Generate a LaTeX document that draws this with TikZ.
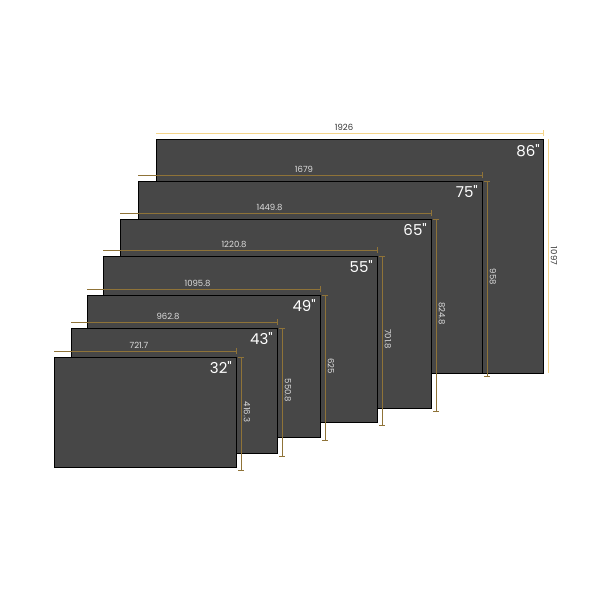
\documentclass[tikz,border=0pt]{standalone}
\usepackage{fontspec}
\setmainfont{Poppins}
\definecolor{screen}{HTML}{474747}
\definecolor{dimline}{HTML}{8F7338}
\definecolor{dimlight}{HTML}{F5D58A}
\definecolor{dimtext}{HTML}{DDDDDD}
\tikzset{
  tv/.style={draw=black, line width=0.9pt, fill=screen},
  dim/.style={draw=dimline, line width=0.5pt},
  dimlabel/.style={text=dimtext, font=\fontsize{8.5}{9}\selectfont, inner sep=1pt},
  sizelabel/.style={text=white, font=\fontsize{15}{16}\selectfont, anchor=north east, inner sep=1pt}
}
\begin{document}
\begin{tikzpicture}[x=1pt,y=-1pt]
  \useasboundingbox (0,0) rectangle (600,600);
  % largest screen, labels outside on white
  \draw [tv] (156,139) rectangle (543,373);
  \draw [draw=dimlight, line width=0.5pt] (156,133)--(543,133) (543,130)--(543,136);
  \draw [draw=dimlight, line width=0.5pt] (548,139)--(548,373);
  \node [font=\fontsize{8.5}{9}\selectfont, text=black!80] at (344,127) {1926};
  \node [font=\fontsize{8.5}{9}\selectfont, text=black!80, rotate=-90] at (554,256) {1097};
  \node [sizelabel] at (541,143) {86\textquotedbl};
  % smaller screens: left/top/right/bottom/width/height/size
  \foreach \l/\t/\r/\b/\w/\h/\s in {138/181/482/373/1679/958/75, 120/219/431/408/1449.8/824.8/65,
      103/256/377/422/1220.8/701.8/55, 87/295/320/437/1095.8/625/49,
      71/328/277/453/962.8/550.8/43, 54/357/236/467/721.7/416.3/32}{
    \draw [tv] (\l,\t) rectangle (\r,\b);
    \draw [dim] (\l,\t-6)--(\r,\t-6) (\r,\t-9)--(\r,\t-3);
    \draw [dim] (\r+5,\t)--(\r+5,\b+3) (\r+2,\t)--(\r+8,\t) (\r+2,\b+3)--(\r+8,\b+3);
    \node [dimlabel] at ({(\l+\r)/2-6},\t-12) {\w};
    \node [dimlabel, rotate=-90] at (\r+11,{(\t+\b)/2}) {\h};
    \node [sizelabel] at (\r-3,\t+3) {\s\textquotedbl};
  }
\end{tikzpicture}
\end{document}
